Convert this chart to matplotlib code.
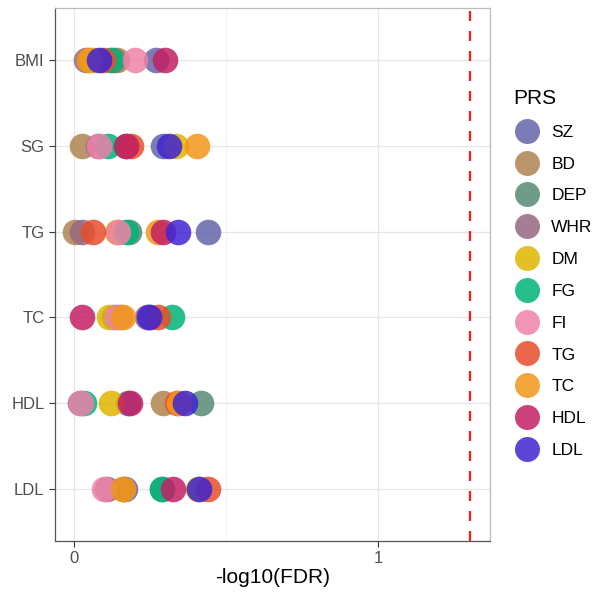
import matplotlib
matplotlib.use("Agg")
import matplotlib.pyplot as plt
from matplotlib.lines import Line2D

plt.rcParams['font.family'] = ['Liberation Sans', 'DejaVu Sans']

traits = ["BMI", "SG", "TG", "TC", "HDL", "LDL"]
prs = ["SZ", "BD", "DEP", "WHR", "DM", "FG", "FI", "TG", "TC", "HDL", "LDL"]
colors = ["#6464aa", "#b08450", "#568a74", "#976882", "#e0b400", "#00b478",
          "#ef82aa", "#e84e2a", "#f2971a", "#c41f64", "#3f25d2"]

# -log10(FDR) per trait (rows) for each PRS (columns, same order as prs)
vals = {
    "BMI": [0.27, 0.14, 0.128, 0.04, 0.06, 0.12, 0.20, 0.096, 0.05, 0.30, 0.083],
    "SG":  [0.293, 0.027, 0.17, 0.08, 0.334, 0.112, 0.081, 0.186, 0.405, 0.172, 0.313],
    "TG":  [0.44, 0.002, 0.18, 0.025, 0.14, 0.172, 0.145, 0.064, 0.276, 0.294, 0.342],
    "TC":  [0.25, 0.15, 0.13, 0.24, 0.114, 0.322, 0.14, 0.276, 0.162, 0.026, 0.247],
    "HDL": [0.176, 0.292, 0.418, 0.02, 0.122, 0.032, 0.022, 0.34, 0.345, 0.183, 0.365],
    "LDL": [0.168, 0.16, 0.29, 0.11, 0.408, 0.29, 0.10, 0.44, 0.162, 0.326, 0.412],
}
threshold = 1.30103  # -log10(0.05)

fig = plt.figure(figsize=(6.13, 5.92), dpi=100)
ax = fig.add_axes([55/613, 1-541/592, (490-55)/613, (541-8)/592])

ypos = {t: len(traits) - i for i, t in enumerate(traits)}
alpha = 0.85
for j, p in enumerate(prs):
    xs = [vals[t][j] for t in traits]
    ys = [ypos[t] for t in traits]
    ax.scatter(xs, ys, s=340, color=colors[j], alpha=alpha, linewidths=0, zorder=3)

ax.axvline(threshold, color="#ff1a1a", linestyle=(0, (4.5, 4.5)), linewidth=1.6, zorder=4)

ax.set_xlim(-0.0625, 1.368)
ax.set_ylim(0.4, len(traits) + 0.6)
ax.set_yticks([ypos[t] for t in traits])
ax.set_yticklabels(traits)
ax.set_xticks([0, 1])
ax.set_xticklabels(["0", "1"])
ax.set_xticks([0.5], minor=True)
ax.grid(True, which="major", color="#e6e6e6", linewidth=0.9, zorder=0)
ax.grid(True, which="minor", axis="x", color="#f0f0f0", linewidth=0.6, zorder=0)
ax.set_axisbelow(True)
ax.tick_params(axis="both", which="major", labelsize=12, labelcolor="#4d4d4d",
               color="#333333", length=4, width=0.8)
ax.tick_params(axis="x", which="minor", length=0)
for side in ["left", "bottom"]:
    ax.spines[side].set_color("#555555")
    ax.spines[side].set_linewidth(0.9)
for side in ["top", "right"]:
    ax.spines[side].set_color("#bbbbbb")
    ax.spines[side].set_linewidth(0.9)
ax.set_xlabel("-log10(FDR)", fontsize=15, color="black", labelpad=1)

handles = [Line2D([], [], marker="o", linestyle="none", markersize=18,
                  markerfacecolor=c, markeredgewidth=0, alpha=alpha) for c in colors]
leg = fig.legend(handles, prs, loc="upper left", bbox_to_anchor=(506/613, 1-82/592),
                 frameon=False, fontsize=12.5, title="PRS", title_fontsize=15,
                 labelspacing=0.96, handletextpad=0.6, borderaxespad=0,
                 handlelength=1.6)
leg._legend_box.align = "left"

fig.savefig("out.png", dpi=100)
